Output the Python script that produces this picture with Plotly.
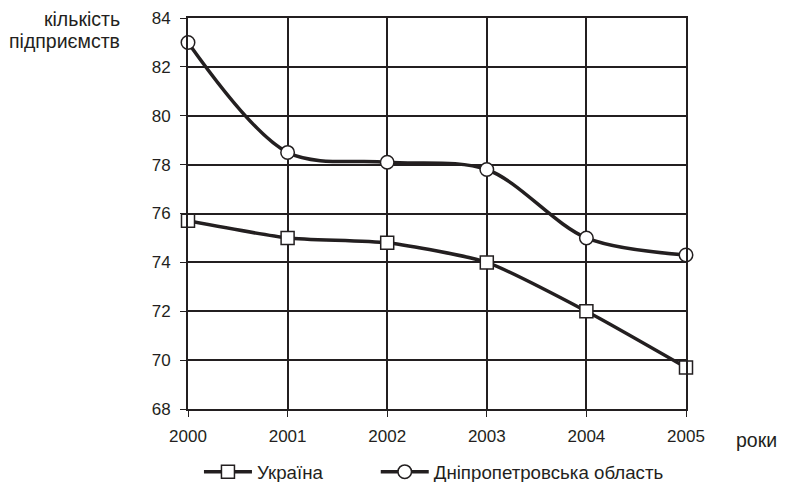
import plotly.graph_objects as go

years = [2000, 2001, 2002, 2003, 2004, 2005]
ukraine = [75.7, 75.0, 74.8, 74.0, 72.0, 69.7]
dnipro = [83.0, 78.5, 78.1, 77.8, 75.0, 74.3]
series_names = ["Україна", "Дніпропетровська область"]

font_family = "Liberation Sans, Arial, sans-serif"
ink = "#231f20"

fig = go.Figure()
fig.add_trace(go.Scatter(
    x=years, y=ukraine, name=series_names[0], mode="lines+markers", cliponaxis=False,
    line=dict(color=ink, width=3.5, shape="spline", smoothing=0.6),
    marker=dict(symbol="square", size=13, color="white", line=dict(color=ink, width=1.5)),
    legend="legend",
))
fig.add_trace(go.Scatter(
    x=years, y=dnipro, name=series_names[1], mode="lines+markers", cliponaxis=False,
    line=dict(color=ink, width=3.5, shape="spline", smoothing=0.9),
    marker=dict(symbol="circle", size=13.5, color="white", line=dict(color=ink, width=1.5)),
    legend="legend2",
))

# plot area height in px is 391 (fig y 10..401); legend centre at fig y 464
legend_common = dict(orientation="h", y=-63 / 391, yanchor="middle", xanchor="left",
                     font=dict(size=18.7, color=ink), itemwidth=48,
                     bgcolor="rgba(0,0,0,0)")

# page body has an 8px margin, so the figure is a bit smaller and shifted
fig.update_layout(
    width=777, height=474,
    margin=dict(l=180, r=99, t=10, b=73, autoexpand=False),
    paper_bgcolor="white", plot_bgcolor="white",
    font=dict(family=font_family, size=17, color=ink),
    showlegend=True,
    legend=dict(x=0.022, **legend_common),
    legend2=dict(x=0.377, **legend_common),
    xaxis=dict(range=[2000, 2005], tickvals=years, ticktext=[str(y) for y in years],
               showgrid=True, gridcolor=ink, gridwidth=1.5,
               showline=True, linecolor=ink, linewidth=2, mirror=True,
               ticks="outside", ticklen=6, tickcolor=ink, zeroline=False,
               ticklabelstandoff=5, tickfont=dict(size=17)),
    yaxis=dict(range=[68, 84], dtick=2,
               showgrid=True, gridcolor=ink, gridwidth=1.5,
               showline=True, linecolor=ink, linewidth=2, mirror=True,
               ticks="outside", ticklen=6, tickcolor=ink, zeroline=False,
               ticklabelstandoff=6, tickfont=dict(size=17)),
)

fig.add_annotation(text="кількість", xref="paper", yref="paper",
                   x=-0.132, y=1.0307, xanchor="right", yanchor="top", showarrow=False,
                   font=dict(size=19.5, color=ink))
fig.add_annotation(text="підприємств", xref="paper", yref="paper",
                   x=-0.132, y=0.9744, xanchor="right", yanchor="top", showarrow=False,
                   font=dict(size=19.5, color=ink))
fig.add_annotation(text="роки", xref="paper", yref="paper",
                   x=1.186, y=-31 / 391, xanchor="right", yanchor="middle", showarrow=False,
                   font=dict(size=19.5, color=ink))

fig.write_html("out.html")
